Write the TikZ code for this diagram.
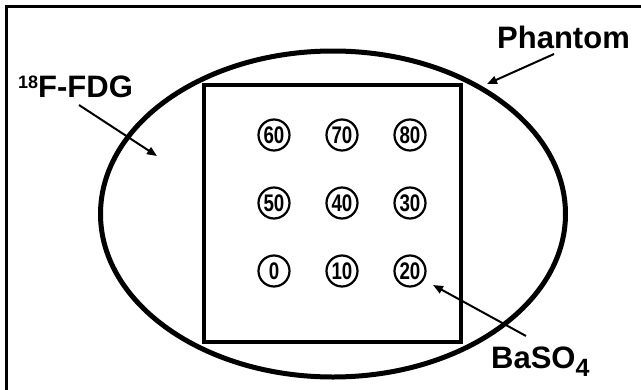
\documentclass[tikz,border=0pt]{standalone}
\usepackage{fontspec}
\setmainfont{Liberation Sans}
\usetikzlibrary{shapes.geometric,arrows.meta}
\begin{document}
\begin{tikzpicture}[x=1pt,y=-1pt,
  lbl/.style={font=\bfseries\fontsize{31}{31}\selectfont, inner sep=0, anchor=base west},
  well/.style={circle, draw, line width=2.2pt, minimum size=31pt, inner sep=0,
               font=\bfseries\fontsize{24}{24}\selectfont},
  pointer/.style={line width=2pt, -{Triangle[length=10pt,width=8pt]}}]
\useasboundingbox (0,0) rectangle (641,389);

% outer frame (right and bottom edges run past the page)
\draw[line width=2.5pt] (6.5,6.5) rectangle (660,410);

% phantom body and the inner tank
\node[ellipse, draw, line width=5pt, minimum width=465pt, minimum height=326pt, inner sep=0]
  (phantom) at (333,214) {};
\node[draw, line width=4pt, minimum size=257pt, inner sep=0] (tank) at (332.5,213.5) {};

% wells with their percentages
\foreach \v/\x/\y in {60/274/135, 70/342/135, 80/410/135,
                      50/274/203, 40/342/203, 30/410/203,
                       0/274/271, 10/342/271, 20/410/271}
  \node[well] (w\v) at (\x,\y) {\scalebox{0.78}[1]{\v}};

% labels
\node[lbl] (fdg) at (18,97) {\raisebox{9pt}{\fontsize{18}{18}\selectfont 18}F-FDG};
\node[lbl] (phlabel) at (497,48) {Phantom};
\node[lbl] (balabel) at (491,368) {BaSO\raisebox{-8pt}{\fontsize{25}{25}\selectfont 4}};

% pointers
\coordinate (fdgTail) at (79,105);  \coordinate (fdgTip) at (157,156);
\coordinate (phTail) at (554,54);   \coordinate (phTip) at (487,84);
\coordinate (baTail) at (526,336);  \coordinate (baTip) at (433,285);
\draw[pointer] (fdgTail) -- (fdgTip);
\draw[pointer] (phTail) -- (phTip);
\draw[pointer] (baTail) -- (baTip);
\end{tikzpicture}
\end{document}
